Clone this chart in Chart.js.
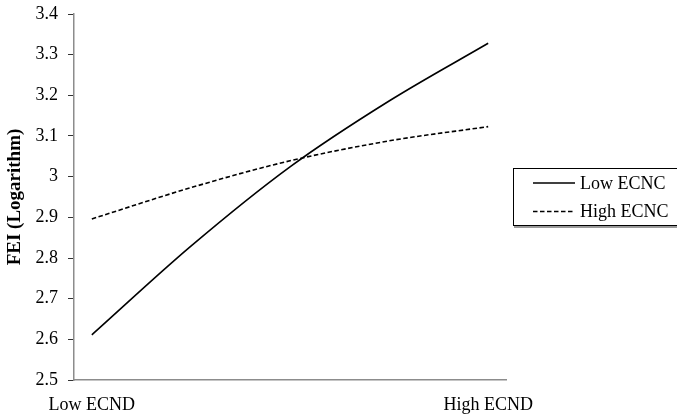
<!DOCTYPE html>
<html>
<head>
<meta charset="utf-8">
<script src="https://cdn.jsdelivr.net/npm/chart.js@4/dist/chart.umd.min.js"></script>
<style>
  html, body { margin: 0; padding: 0; background: #fff; }
  #wrap { width: 677px; height: 415px; }
</style>
</head>
<body>
<div id="wrap"><canvas id="feiChart"></canvas></div>
<script>
// 横軸のラベル（両端のみ表示）
const categories = ['Low ECND', 'High ECND']
// 曲線を描くための読み取り位置（0 = Low ECND, 1 = High ECND）
const xPositions = [0, 0.25, 0.5, 0.75, 1]
const lowEcnc = [2.611, 2.829, 3.024, 3.186, 3.328]
const highEcnc = [2.896, 2.973, 3.039, 3.088, 3.123]
const yTicks = [2.5, 2.6, 2.7, 2.8, 2.9, 3.0, 3.1, 3.2, 3.3, 3.4]

const serif = "'Liberation Serif', 'Times New Roman', serif"
const axisGray = '#8c8c8c'

const toPoints = (values) => values.map((v, i) => ({ x: xPositions[i], y: v }))

// 右側の枠付き凡例
const boxLegend = {
  id: 'boxLegend',
  afterDraw(chart) {
    const ctx = chart.ctx
    ctx.save()
    // 影
    ctx.fillStyle = '#9a9a9a'
    ctx.fillRect(514, 226, 163, 2)
    ctx.strokeStyle = '#000'
    ctx.lineWidth = 1
    ctx.strokeRect(513.5, 168.5, 170, 57)
    ctx.font = '18px ' + serif
    ctx.textBaseline = 'middle'
    ctx.fillStyle = '#000'
    chart.data.datasets.forEach((ds, i) => {
      const y = 183 + i * 28.5
      ctx.beginPath()
      ctx.lineWidth = ds.borderWidth
      ctx.setLineDash(ds.borderDash || [])
      ctx.moveTo(533, y)
      ctx.lineTo(575, y)
      ctx.stroke()
      ctx.setLineDash([])
      ctx.fillText(ds.label, 580, y + 1)
    })
    ctx.restore()
  }
}

const feiChart = new Chart(document.getElementById('feiChart'), {
  type: 'line',
  data: {
    datasets: [{
      label: 'Low ECNC',
      data: toPoints(lowEcnc),
      borderColor: '#000',
      borderWidth: 1.6,
      pointRadius: 0,
      cubicInterpolationMode: 'monotone',
      fill: false
    }, {
      label: 'High ECNC',
      data: toPoints(highEcnc),
      borderColor: '#000',
      borderWidth: 1.6,
      borderDash: [4.5, 2.5],
      pointRadius: 0,
      cubicInterpolationMode: 'monotone',
      fill: false
    }]
  },
  options: {
    responsive: true,
    maintainAspectRatio: false,
    animation: false,
    layout: {
      padding: { top: 14, right: 171, bottom: 0, left: 0 }
    },
    plugins: {
      legend: { display: false },
      tooltip: { enabled: false }
    },
    scales: {
      x: {
        type: 'linear',
        min: -0.045,
        max: 1.045,
        afterBuildTicks: (scale) => {
          scale.ticks = categories.map((c, i) => ({ value: i }))
        },
        afterFit: (scale) => {
          scale.height = 35
          scale.paddingLeft = 0
          scale.paddingRight = 0
        },
        grid: { display: false },
        border: { display: true, color: axisGray, width: 1.5 },
        ticks: {
          color: '#000',
          padding: 6,
          maxRotation: 0,
          font: { family: serif, size: 18 },
          callback: (v) => categories[v]
        }
      },
      y: {
        min: 2.5,
        max: 3.4,
        afterBuildTicks: (scale) => {
          scale.ticks = yTicks.map((v) => ({ value: v }))
        },
        afterFit: (scale) => {
          scale.width = 74
          scale.paddingTop = 0
          scale.paddingBottom = 0
        },
        grid: {
          drawOnChartArea: false,
          drawTicks: true,
          tickLength: 6,
          color: '#333'
        },
        border: { display: true, color: axisGray, width: 1.5 },
        ticks: {
          color: '#000',
          padding: 10,
          font: { family: serif, size: 18 },
          callback: (v) => String(Number(v.toFixed(1)))
        },
        title: {
          display: true,
          text: 'FEI (Logarithm)',
          color: '#000',
          padding: { top: 4, bottom: 0 },
          font: { family: serif, size: 19, weight: 'bold' }
        }
      }
    }
  },
  plugins: [boxLegend]
})
</script>
</body>
</html>
